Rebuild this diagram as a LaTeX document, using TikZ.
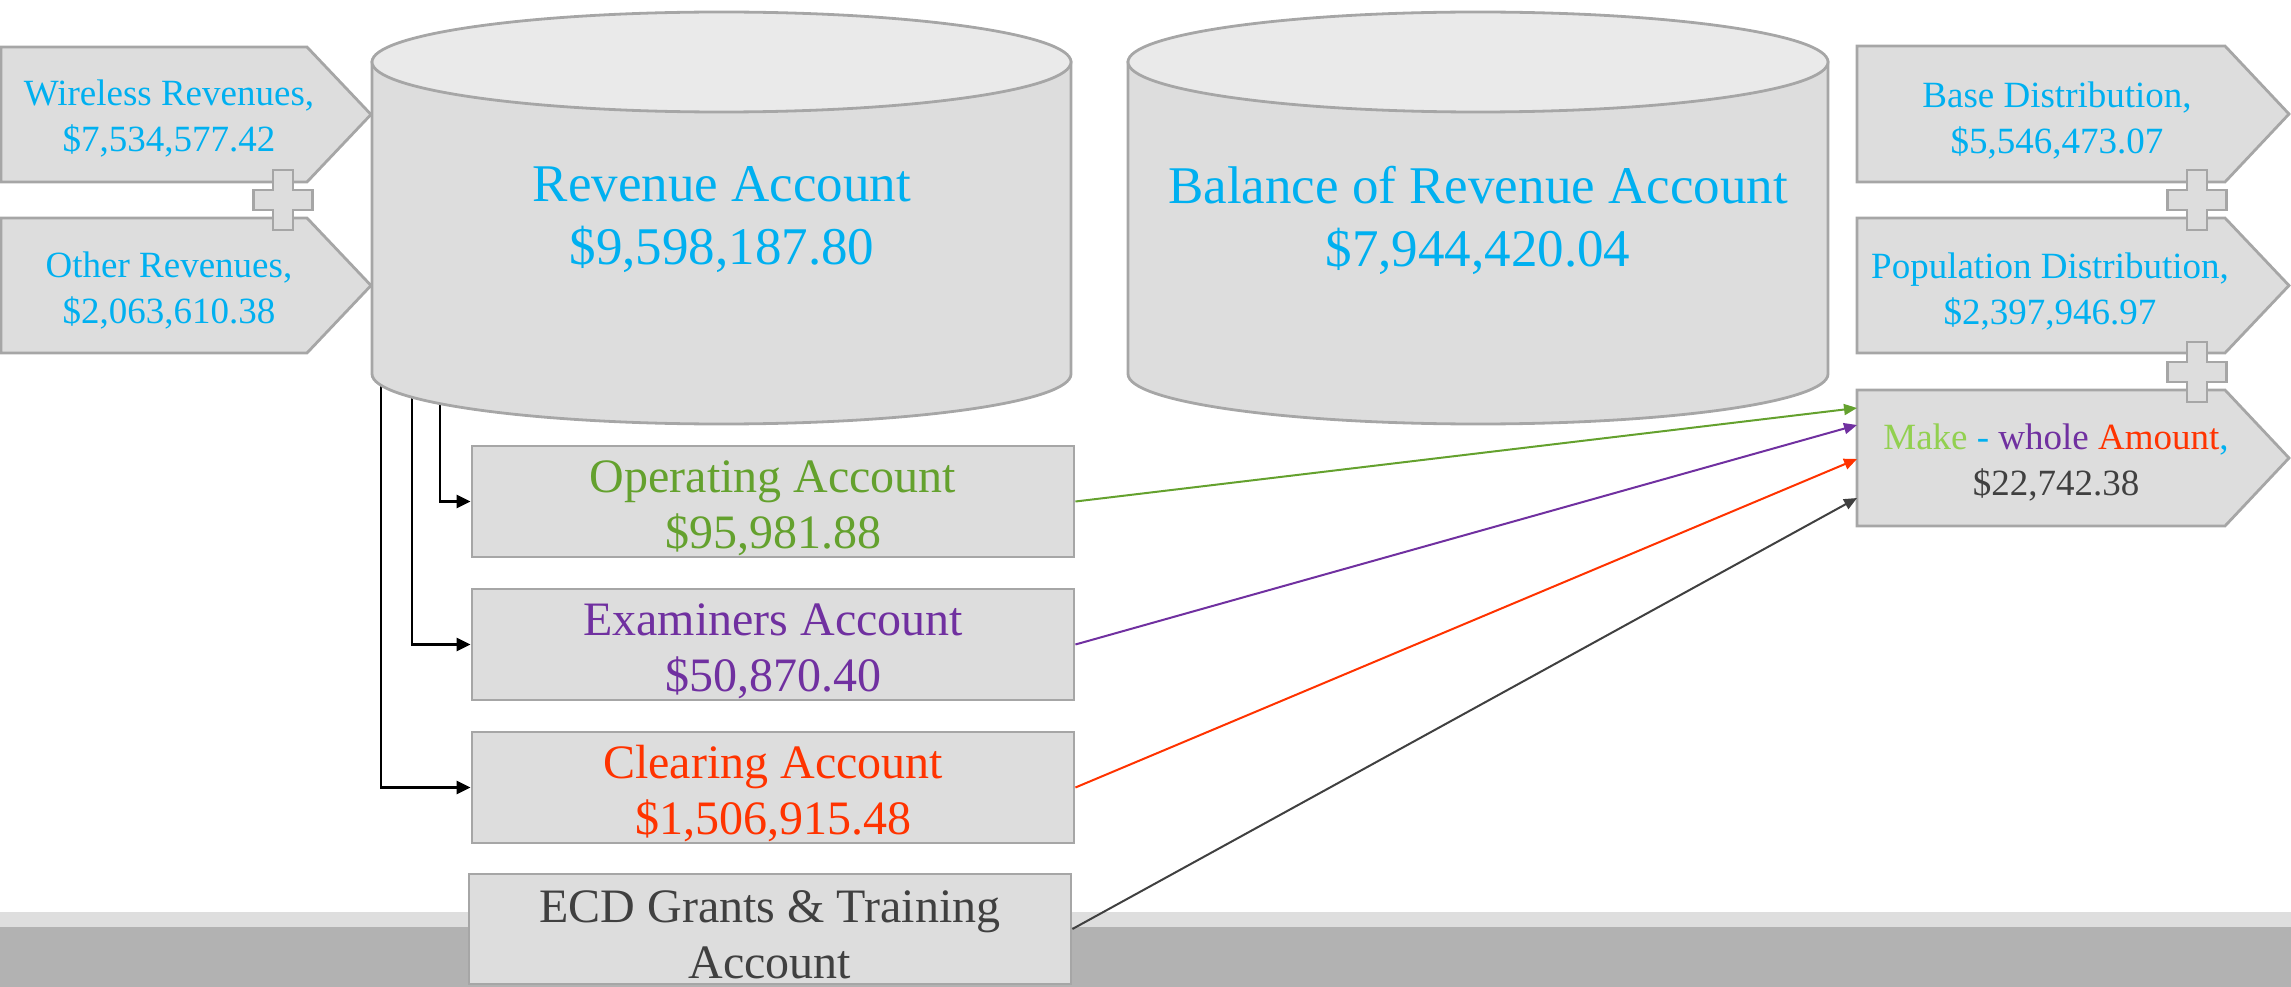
\documentclass[tikz,border=0pt]{standalone}
\usepackage{fontspec}
\setmainfont{Liberation Serif}
\usetikzlibrary{arrows.meta,calc}
\definecolor{cyanT}{HTML}{00B0F0}
\definecolor{greenOp}{HTML}{64A12E}
\definecolor{greenL}{HTML}{92D050}
\definecolor{purpleT}{HTML}{7030A0}
\definecolor{redT}{HTML}{FF3300}
\definecolor{darkT}{HTML}{404040}
\definecolor{boxgray}{HTML}{DDDDDD}
\definecolor{topgray}{HTML}{EAEAEA}
\definecolor{bordergray}{HTML}{A6A6A6}
\definecolor{bandlight}{HTML}{DEDEDE}
\definecolor{banddark}{HTML}{B2B2B2}
\begin{document}
\begin{tikzpicture}[x=1pt,y=-1pt,
  boxline/.style={draw=bordergray, line width=2.8pt, fill=boxgray, line join=miter},
  acct/.style={boxline, minimum width=602pt, minimum height=111pt, inner sep=0pt, align=center, font=\fontsize{48}{56}\selectfont},
  pentext/.style={align=center, font=\fontsize{37}{46}\selectfont, text=cyanT, inner sep=0pt},
  cyltext/.style={align=center, font=\fontsize{53}{63}\selectfont, text=cyanT, inner sep=0pt},
  feed/.style={line width=2.4pt, -{Triangle[length=14pt,width=13pt]}},
  flow/.style={line width=2pt, -{Triangle[length=13pt,width=11pt]}},
  plussign/.pic={\path[boxline] (-29.5,-10) -- (-10,-10) -- (-10,-30) -- (10,-30) -- (10,-10) -- (29.5,-10) -- (29.5,10) -- (10,10) -- (10,30) -- (-10,30) -- (-10,10) -- (-29.5,10) -- cycle;}
]
\useasboundingbox (0,0) rectangle (2291,987);
% bottom band
\fill[bandlight] (0,912) rectangle (2291,927);
\fill[banddark] (0,927) rectangle (2291,987);

% left pentagons
\path[boxline] (1,47) -- (307,47) -- (371,114.5) -- (307,182) -- (1,182) -- cycle;
\path[boxline] (1,218) -- (307,218) -- (371,285.5) -- (307,353) -- (1,353) -- cycle;
\node[pentext] (wir) at (169,119) {Wireless Revenues,\\\$7,534,577.42};
\node[pentext] (oth) at (169,291) {Other Revenues,\\\$2,063,610.38};
\pic at (283,200) {plussign};

% right pentagons
\path[boxline] (1857,46) -- (2225,46) -- (2289,114) -- (2225,182) -- (1857,182) -- cycle;
\path[boxline] (1857,218) -- (2225,218) -- (2289,285.5) -- (2225,353) -- (1857,353) -- cycle;
\path[boxline] (1857,390) -- (2225,390) -- (2289,458) -- (2225,526) -- (1857,526) -- cycle;
\node[pentext] (base) at (2057,121) {Base Distribution,\\\$5,546,473.07};
\node[pentext] (pop) at (2050,292) {Population Distribution,\\\$2,397,946.97};
\node[pentext] (mw) at (2056,463) {{\color{greenL}Make} - {\color{purpleT}whole} {\color{redT}Amount},\\{\color{darkT}\$22,742.38}};
\pic at (2197,200) {plussign};
\pic at (2197,372) {plussign};
\coordinate (mw1) at (1857,408);
\coordinate (mw2) at (1857,425);
\coordinate (mw3) at (1857,459);
\coordinate (mw4) at (1857,498);

% account boxes
\node[acct] (op) at (773,501.5) {};
\node[acct] (ex) at (773,644.5) {};
\node[acct] (cl) at (773,787.5) {};
\node[acct, minimum height=110pt] (ecd) at (770,929) {};
\node[acct, draw=none, fill=none, text=greenOp] (opt) at (773,508) {Operating Account\\\$95,981.88};
\node[acct, draw=none, fill=none, text=purpleT] (ext) at (773,651) {Examiners Account\\\$50,870.40};
\node[acct, draw=none, fill=none, text=redT] (clt) at (773,794) {Clearing Account\\\$1,506,915.48};
\node[acct, draw=none, fill=none, text=darkT] (ecdt) at (770,935) {ECD Grants \& Training\\Account};

% feeds from revenue account
\coordinate (rb1) at (381,384);
\coordinate (rb2) at (412,396);
\coordinate (rb3) at (440,403);
\draw[feed] (rb1) |- (cl.west);
\draw[feed] (rb2) |- (ex.west);
\draw[feed] (rb3) |- (op.west);

% flows to make-whole
\draw[flow, greenOp] (op.east) -- (mw1);
\draw[flow, purpleT] (ex.east) -- (mw2);
\draw[flow, redT] (cl.east) -- (mw3);
\draw[flow, darkT] (ecd.east) -- (mw4);

% cylinders
\path[boxline] (372,62) -- (372,374) arc[start angle=180, end angle=360, x radius=349.5pt, y radius=50pt] -- (1071,62) -- cycle;
\draw[draw=bordergray, line width=2.8pt, fill=topgray] (721.5,62) ellipse [x radius=349.5pt, y radius=50pt];
\path[boxline] (1128,62) -- (1128,374) arc[start angle=180, end angle=360, x radius=350pt, y radius=50pt] -- (1828,62) -- cycle;
\draw[draw=bordergray, line width=2.8pt, fill=topgray] (1478,62) ellipse [x radius=350pt, y radius=50pt];
\node[cyltext] (rev) at (722,220) {Revenue Account\\\$9,598,187.80};
\node[cyltext] (bal) at (1478,220) {Balance of Revenue Account\\\$7,944,420.04};
\end{tikzpicture}
\end{document}
